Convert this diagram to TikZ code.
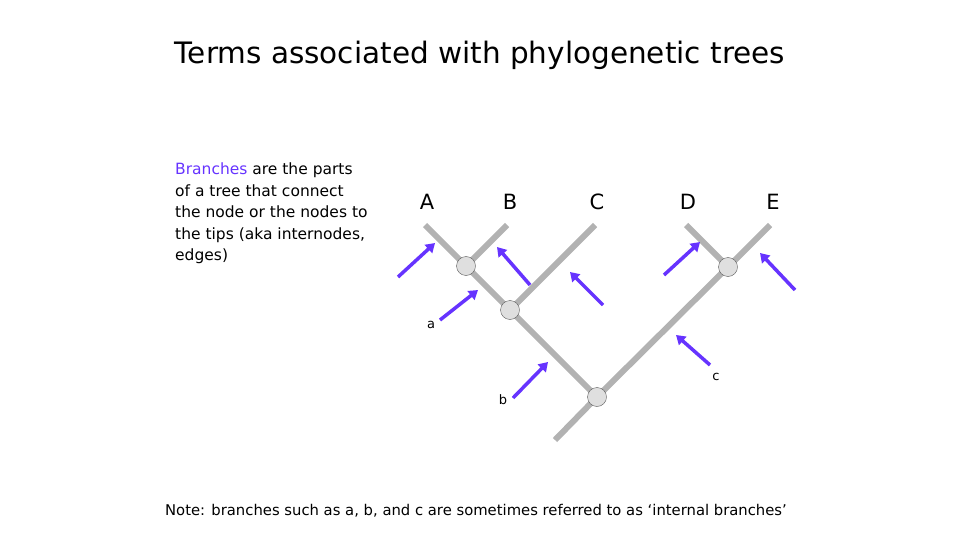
\documentclass[tikz,border=0pt]{standalone}
\usepackage{fontspec}
\setmainfont{DejaVu Sans}
\usetikzlibrary{arrows.meta}
\definecolor{arrowpurple}{HTML}{6633FF}
\tikzset{
    branch/.style = {
        draw=gray!60,
        line width=6pt,
        },
    inode/.style = {
        draw=gray!70!black,
        fill=gray!25,
        circle,
        minimum size=19pt,
        inner sep=0pt,
        },
    pointer/.style = {
        draw=arrowpurple,
        line width=3.5pt,
        -{Triangle[length=9pt,width=11pt]},
        },
    tip/.style = {
        font=\fontsize{21}{21}\selectfont,
        },
    small/.style = {
        font=\fontsize{13}{13}\selectfont,
        }
}
\begin{document}
\begin{tikzpicture}[x=1pt,y=-1pt]
            \useasboundingbox (0,0) rectangle (960,540);
            \node (title) at (480,55) {\fontsize{29.5}{30}\selectfont Terms associated with phylogenetic trees};
            \node[anchor=north west, align=left, font=\fontsize{15.5}{21.5}\selectfont, inner sep=0pt] (text) at (175,163)
                {\textcolor{arrowpurple}{Branches} are the parts\\of a tree that connect\\the node or the nodes to\\the tips (aka internodes,\\edges)};

            % tree
            \coordinate (root) at (555,440);
            \coordinate (ta) at (425,225);
            \coordinate (tb) at (507,225);
            \coordinate (tc) at (595,225);
            \coordinate (td) at (686,225);
            \coordinate (te) at (770,225);
            \coordinate (n1) at (466,266);
            \coordinate (n2) at (510,310);
            \coordinate (n3) at (597,397);
            \coordinate (n4) at (728,267);

            \draw[branch] (root) -- (n3) -- (n2) -- (n1) -- (ta);
            \draw[branch] (n1) -- (tb);
            \draw[branch] (n2) -- (tc);
            \draw[branch] (n3) -- (n4) -- (te);
            \draw[branch] (n4) -- (td);

            \foreach \n in {n1,n2,n3,n4}
                \node[inode] at (\n) {};

            % tip labels
            \node[tip] (A) at (427,202) {A};
            \node[tip] (B) at (510,202) {B};
            \node[tip] (C) at (597,202) {C};
            \node[tip] (D) at (688,202) {D};
            \node[tip] (E) at (773,202) {E};

            % pointers
            \draw[pointer] (398,277) -- (435,243);
            \draw[pointer] (530,285) -- (497,247);
            \draw[pointer] (603,305) -- (570,272);
            \draw[pointer] (664,275) -- (700,242);
            \draw[pointer] (795,290) -- (760,253);
            \draw[pointer] (440,320) -- (478,290);
            \draw[pointer] (513,398) -- (548,362);
            \draw[pointer] (710,365) -- (676,335);

            \node[small] (a) at (431,325) {a};
            \node[small] (b) at (503,400) {b};
            \node[small] (c) at (716,377) {c};

            \node[font=\fontsize{14.8}{15}\selectfont] (note) at (476,511)
                {Note: branches such as a, b, and c are sometimes referred to as ‘internal branches’};
        \end{tikzpicture}
\end{document}
